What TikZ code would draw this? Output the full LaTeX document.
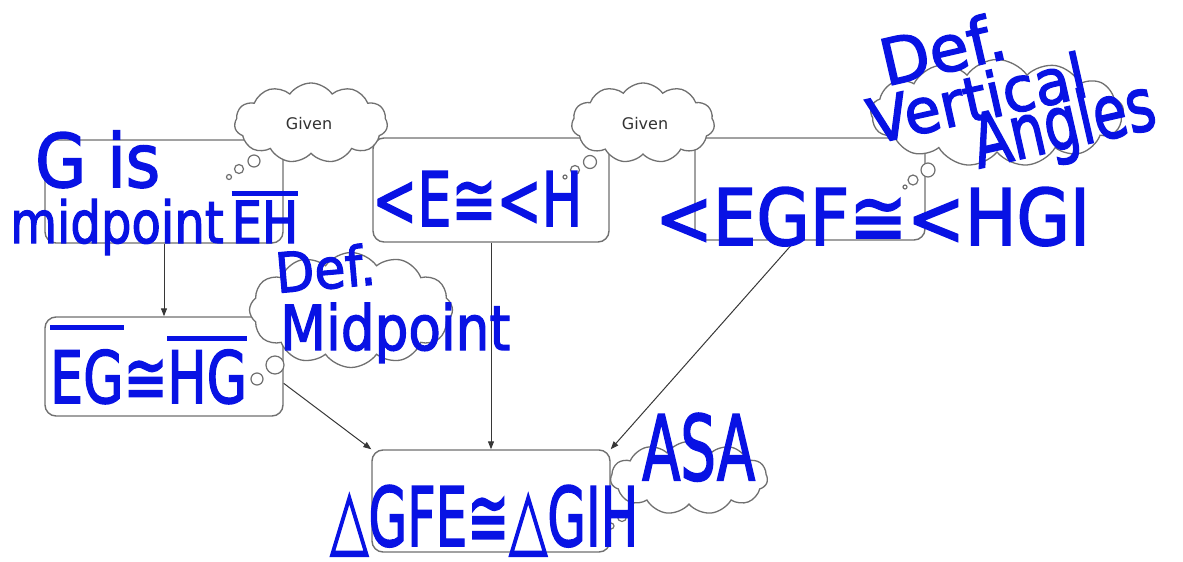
\documentclass[tikz,border=0pt]{standalone}
\usepackage{fontspec}
\usepackage{graphicx}
\usetikzlibrary{shapes.symbols,arrows.meta}
\newfontfamily\hand{DejaVu Sans}[FakeBold=2.2]
\newfontfamily\givenfont{DejaVu Sans}
\definecolor{ink}{RGB}{8,18,228}
\definecolor{edge}{RGB}{112,112,112}
\definecolor{arrowc}{RGB}{55,55,55}
\definecolor{giventxt}{RGB}{50,50,50}
\newcommand\hsz[1]{\fontsize{#1}{#1}\selectfont}
\newcommand\fitw[3]{\resizebox{#1}{\height}{\hsz{#2}#3}}
\newcommand\myol[2][6pt]{\vbox{\hrule height 5pt\kern#1\hbox{#2}}}
\begin{document}
\begin{tikzpicture}[x=1pt,y=-1pt,
  stepbox/.style={draw=edge, line width=1.4pt, rounded corners=11pt, fill=white, inner sep=0pt},
  conn/.style={draw=arrowc, line width=1pt, -{Triangle[length=8pt,width=6pt]}},
  cloudy/.style={cloud, cloud puffs=#1, cloud puff arc=110, cloud ignores aspect, draw=edge, line width=1.3pt, fill=white, inner sep=0pt},
  bub/.style={circle, draw=edge, line width=1.2pt, fill=white, inner sep=0pt, minimum size=#1},
  handtxt/.style={text=ink, font=\hand, inner sep=0pt},
  giventx/.style={text=giventxt, font=\givenfont\hsz{16}, inner sep=0pt}]
\useasboundingbox (0,0) rectangle (1183,562);
% boxes
\node[stepbox, minimum width=238pt, minimum height=103pt] (A) at (164,191.5) {};
\node[stepbox, minimum width=236pt, minimum height=104pt] (B) at (491,190) {};
\node[stepbox, minimum width=230pt, minimum height=102pt] (C) at (810,189) {};
\node[stepbox, minimum width=238pt, minimum height=99pt] (D) at (164,366.5) {};
\node[stepbox, minimum width=238pt, minimum height=102pt] (E) at (491,501) {};
% connectors
\draw[conn] (A.south) -- (D.north);
\draw[conn] (B.south) -- (E.north);
\draw[conn] (C.254) -- (E.north east);
\draw[conn] (D.-8) -- (E.north west);
% clouds
\node[cloudy=11, minimum width=153pt, minimum height=80pt] (cA) at (311,123) {};
\node[cloudy=11, minimum width=143pt, minimum height=80pt] (cB) at (643,123) {};
\node[cloudy=13, minimum width=253pt, minimum height=107pt] (cC) at (997,113) {};
\node[cloudy=12, minimum width=203pt, minimum height=115pt] (cD) at (351,310) {};
\node[cloudy=11, minimum width=157pt, minimum height=73pt] (cE) at (689,478) {};
% thought bubbles
\node[bub=12pt] (a1) at (254,161) {};
\node[bub=9pt] (a2) at (239,169) {};
\node[bub=5pt] (a3) at (229,177) {};
\node[bub=13pt] (b1) at (590,162) {};
\node[bub=9pt] (b2) at (575,170) {};
\node[bub=4pt] (b3) at (565,177) {};
\node[bub=14pt] (c1) at (928,170) {};
\node[bub=10pt] (c2) at (913,180) {};
\node[bub=4pt] (c3) at (905,187) {};
\node[bub=18pt] (d1) at (275,365) {};
\node[bub=12pt] (d2) at (257,379) {};
\node[bub=9pt] (e1) at (622,517) {};
\node[bub=6pt] (e2) at (611,526) {};
% gray labels
\node[giventx] (gA) at (309,124) {Given};
\node[giventx] (gB) at (645,124) {Given};
% handwritten texts
\node[handtxt, anchor=base west] (t1) at (35,187) {\fitw{125pt}{74}{G is}};
\node[handtxt, anchor=base west] (t2) at (10,243) {\fitw{288pt}{58}{midpoint\,\myol[5pt]{EH}}};
\node[handtxt, anchor=base west] (t3) at (372,226) {\fitw{210pt}{75}{<E≅<H}};
\node[handtxt, anchor=base west] (t4) at (655,245) {\fitw{435pt}{78}{<EGF≅<HGI}};
\node[handtxt, anchor=base, rotate=13] (t5) at (948,72) {\fitw{127pt}{64}{Def.}};
\node[handtxt, anchor=base, rotate=12.6] (t6) at (982,120) {\fitw{222pt}{62}{Vertical}};
\node[handtxt, anchor=base, rotate=12.8] (t7) at (1069,148) {\fitw{185pt}{74}{Angles}};
\node[handtxt, anchor=base west] (t8) at (50,403) {\fitw{197pt}{72}{\myol[20pt]{EG}≅\myol[9pt]{HG}}};
\node[handtxt, anchor=base west, rotate=5] (t9) at (277,293) {\fitw{100pt}{55}{Def.}};
\node[handtxt, anchor=base west] (t10) at (280,350) {\fitw{230pt}{62}{Midpoint}};
\node[handtxt, anchor=base west] (t11) at (330,546) {\fitw{308pt}{82}{△GFE≅△GIH}};
\node[handtxt, anchor=base west] (t12) at (642,480) {\fitw{113pt}{90}{ASA}};
\end{tikzpicture}
\end{document}
